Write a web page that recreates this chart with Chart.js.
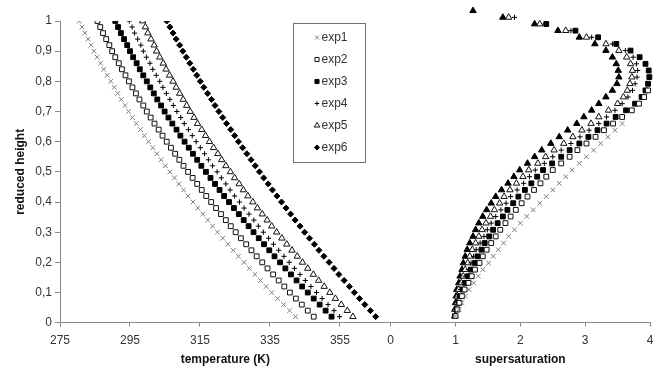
<!DOCTYPE html>
<html>
<head>
<meta charset="utf-8">
<script src="https://cdn.jsdelivr.net/npm/chart.js@4.4.1/dist/chart.umd.min.js"></script>
<style>
    html, body { margin: 0; padding: 0; background: #fff; }
</style>
</head>
<body>
<canvas id="grafik" width="661" height="374"></canvas>
<script>

// reduced height of the points (left panel / right panel)
const hLeft = [0.02,0.04,0.06,0.08,0.1,0.12,0.14,0.16,0.18,0.2,0.22,0.24,0.26,0.28,0.3,0.32,0.34,0.36,0.38,0.4,0.42,0.44,0.46,0.48,0.5,0.52,0.54,0.56,0.58,0.6,0.62,0.64,0.66,0.68,0.7,0.72,0.74,0.76,0.78,0.8,0.82,0.84,0.86,0.88,0.9,0.92,0.94,0.96,0.98,1];
const hRight = [0.022,0.044,0.066,0.088,0.11,0.132,0.154,0.176,0.198,0.22,0.242,0.264,0.286,0.308,0.33,0.352,0.374,0.396,0.418,0.44,0.462,0.484,0.506,0.528,0.55,0.572,0.594,0.616,0.638,0.66,0.682,0.704,0.726,0.748,0.77,0.792,0.814,0.836,0.858,0.88,0.902,0.924,0.946,0.968,0.99,1.012,1.034];

const labels = ["exp1", "exp2", "exp3", "exp4", "exp5", "exp6"];

// temperature (K)
const temp1 = [342.3,340.6,338.9,337.2,335.5,333.9,332.3,330.7,329.1,327.6,326.0,324.5,323.0,321.5,320.0,318.6,317.2,315.8,314.4,313.0,311.6,310.3,309.0,307.7,306.4,305.1,303.9,302.7,301.5,300.3,299.1,298.0,296.8,295.7,294.6,293.6,292.5,291.5,290.5,289.5,288.5,287.5,286.6,285.6,284.7,283.9,283.0,282.1,281.3,280.5];
const temp2 = [347.5,345.8,344.1,342.4,340.7,339.1,337.5,335.9,334.3,332.8,331.2,329.7,328.2,326.7,325.2,323.8,322.4,321.0,319.6,318.2,316.8,315.5,314.2,312.9,311.6,310.3,309.1,307.9,306.7,305.5,304.3,303.2,302.0,300.9,299.8,298.8,297.7,296.7,295.7,294.7,293.7,292.7,291.8,290.8,289.9,289.1,288.2,287.3,286.5,285.7];
const temp3 = [352.6,350.9,349.2,347.5,345.8,344.2,342.6,341.0,339.4,337.9,336.3,334.8,333.3,331.8,330.3,328.9,327.5,326.1,324.7,323.3,321.9,320.6,319.3,318.0,316.7,315.4,314.2,313.0,311.8,310.6,309.4,308.3,307.1,306.0,304.9,303.9,302.8,301.8,300.8,299.8,298.8,297.8,296.9,295.9,295.0,294.2,293.3,292.4,291.6,290.8];
const temp4 = [354.9,353.3,351.6,349.9,348.3,346.7,345.1,343.6,342.0,340.5,339.0,337.5,336.0,334.6,333.1,331.7,330.4,329.0,327.6,326.3,324.9,323.6,322.4,321.1,319.9,318.6,317.4,316.3,315.1,313.9,312.8,311.7,310.5,309.5,308.4,307.4,306.4,305.4,304.4,303.5,302.5,301.5,300.7,299.7,298.8,298.1,297.2,296.3,295.6,294.8];
const temp5 = [358.7,357.1,355.4,353.7,352.1,350.5,348.9,347.4,345.8,344.3,342.8,341.3,339.8,338.4,336.9,335.5,334.2,332.8,331.4,330.1,328.7,327.4,326.2,324.9,323.7,322.4,321.2,320.1,318.9,317.7,316.6,315.5,314.3,313.3,312.2,311.2,310.2,309.2,308.2,307.3,306.3,305.3,304.5,303.5,302.6,301.9,301.0,300.1,299.4,298.6];
const temp6 = [365.2,363.7,362.1,360.6,359.1,357.7,356.2,354.7,353.3,351.9,350.4,349.0,347.7,346.3,344.9,343.6,342.2,340.9,339.6,338.3,337.0,335.7,334.5,333.2,332.0,330.8,329.6,328.4,327.2,326.0,324.9,323.8,322.6,321.5,320.4,319.3,318.3,317.2,316.1,315.1,314.1,313.1,312.1,311.1,310.1,309.2,308.2,307.3,306.4,305.5];

// supersaturation (series stop where they leave the axis)
const sat1 = [1.00,1.05,1.10,1.15,1.21,1.28,1.35,1.42,1.51,1.58,1.66,1.74,1.82,1.91,2.00,2.10,2.20,2.30,2.40,2.50,2.60,2.70,2.80,2.91,3.02,3.13,3.24,3.35,3.46,3.57];
const sat2 = [1.00,1.03,1.06,1.10,1.14,1.20,1.25,1.30,1.37,1.42,1.48,1.55,1.62,1.69,1.77,1.85,1.93,2.02,2.11,2.21,2.31,2.40,2.50,2.63,2.76,2.88,3.02,3.16,3.29,3.43,3.57,3.72,3.83,3.91,3.97];
const sat3 = [0.99,1.02,1.05,1.07,1.11,1.15,1.20,1.24,1.30,1.34,1.40,1.45,1.52,1.58,1.65,1.73,1.80,1.89,1.97,2.07,2.17,2.26,2.35,2.49,2.63,2.76,2.91,3.05,3.19,3.33,3.47,3.63,3.77,3.87,3.93,3.97,3.99,3.98,3.93,3.84,3.70,3.48,3.20,2.85,2.40];
const sat4 = [0.99,1.01,1.03,1.05,1.08,1.12,1.15,1.20,1.24,1.28,1.32,1.38,1.44,1.49,1.55,1.62,1.70,1.78,1.85,1.95,2.05,2.14,2.23,2.37,2.50,2.63,2.78,2.92,3.06,3.21,3.33,3.46,3.57,3.66,3.73,3.77,3.80,3.81,3.79,3.74,3.62,3.42,3.10,2.78,2.38,1.91];
const sat5 = [0.99,1.00,1.02,1.03,1.05,1.09,1.12,1.15,1.19,1.22,1.26,1.31,1.36,1.41,1.47,1.54,1.60,1.68,1.75,1.84,1.94,2.04,2.13,2.27,2.39,2.52,2.67,2.81,2.95,3.09,3.21,3.36,3.50,3.59,3.65,3.69,3.72,3.73,3.70,3.64,3.52,3.32,3.02,2.70,2.30,1.82];
const sat6 = [0.99,0.99,1.00,1.01,1.02,1.05,1.07,1.10,1.12,1.15,1.18,1.22,1.27,1.31,1.36,1.42,1.48,1.55,1.62,1.71,1.81,1.90,1.99,2.11,2.22,2.33,2.47,2.60,2.73,2.87,2.98,3.10,3.21,3.32,3.42,3.49,3.52,3.51,3.48,3.42,3.32,3.15,2.91,2.58,2.22,1.73,1.27];

// tick labels
const yTicks = [0, 0.1, 0.2, 0.3, 0.4, 0.5, 0.6, 0.7, 0.8, 0.9, 1];
const tempTicks = [275, 295, 315, 335, 355];
const satTicks = [0, 1, 2, 3, 4];

const huruf = "Arial, 'Liberation Sans', sans-serif";
Chart.defaults.font.family = huruf;
Chart.defaults.font.size = 12;

// marker look per experiment: [pointStyle, radius, border, fill]
const gayaKiri = [
    ["crossRot", 3.3, "#7d7d7d", "#7d7d7d"],
    ["rect", 3.4, "#111", "#fff"],
    ["rect", 3.4, "#000", "#000"],
    ["cross", 2.6, "#000", "#000"],
    ["triangle", 3.7, "#111", "#fff"],
    ["rectRot", 3.0, "#000", "#000"]
];
const gayaKanan = gayaKiri.slice(0, 5).concat([["triangle", 3.7, "#000", "#000"]]);

function titik(tinggi, nilai) {
    return nilai.map((v, i) => ({ x: v, y: tinggi[i] }));
}

const temps = [temp1, temp2, temp3, temp4, temp5, temp6];
const sats = [sat1, sat2, sat3, sat4, sat5, sat6];

const datasets = [];

labels.forEach((nama, i) => {
    const g = gayaKiri[i];
    datasets.push({
        label: nama,
        xAxisID: "xT",
        data: titik(hLeft, temps[i]),
        pointStyle: g[0],
        pointRadius: g[1],
        borderColor: g[2],
        backgroundColor: g[3],
        pointBorderWidth: 1
    });
});

labels.forEach((nama, i) => {
    const g = gayaKanan[i];
    datasets.push({
        label: nama + " S",
        xAxisID: "xS",
        data: titik(hRight, sats[i]),
        pointStyle: g[0],
        pointRadius: g[1],
        borderColor: g[2],
        backgroundColor: g[3],
        pointBorderWidth: 1,
        clip: { left: 10, top: false, right: 10, bottom: 10 }
    });
});

// the two x axes sit side by side on one base line
const potongan = 0.5605;

const pisahPanel = {
    id: "pisahPanel",
    afterLayout(chart) {
        const area = chart.chartArea;
        const t = chart.scales.xT;
        const s = chart.scales.xS;
        const cut = area.left + (area.right - area.left) * potongan;

        t.left = area.left; t.right = cut; t.width = cut - area.left;
        s.left = cut; s.right = area.right; s.width = area.right - cut;
        s.top = t.top; s.bottom = t.bottom; s.height = t.height;

        t.configure();
        s.configure();
    }
};

// let the points a little above y = 1 be drawn too
let simpanTop = null;
const lewatAtas = {
    id: "lewatAtas",
    beforeDatasetsDraw(chart) {
        simpanTop = chart.chartArea.top;
        chart.chartArea.top = simpanTop - 16;
    },
    afterDatasetsDraw(chart) {
        if (simpanTop !== null) chart.chartArea.top = simpanTop;
    }
};

const kotakLegenda = { x: 293, y: 23, w: 72, h: 139, first: 14.5, step: 22, mark: 24, text: 28.5 };

const legenda = {
    id: "legenda",
    afterDatasetsDraw(chart) {
        const ctx = chart.ctx;
        const b = kotakLegenda;
        ctx.save();
        ctx.fillStyle = "#fff";
        ctx.fillRect(b.x, b.y, b.w, b.h);
        ctx.strokeStyle = "#707070";
        ctx.lineWidth = 1;
        ctx.strokeRect(b.x + 0.5, b.y + 0.5, b.w, b.h);
        ctx.font = "12px " + huruf;
        ctx.textBaseline = "middle";
        ctx.textAlign = "left";

        chart.data.datasets.forEach((ds, i) => {
            if (ds.xAxisID !== "xT") return;
            const cy = b.y + b.first + i * b.step;
            ctx.fillStyle = ds.backgroundColor;
            ctx.strokeStyle = ds.borderColor;
            ctx.lineWidth = 1;
            Chart.helpers.drawPoint(ctx, {
                pointStyle: ds.pointStyle,
                radius: ds.pointRadius * 0.85,
                borderWidth: 1,
                rotation: 0
            }, b.x + b.mark, cy);
            ctx.fillStyle = "#333";
            ctx.fillText(ds.label, b.x + b.text, cy);
        });
        ctx.restore();
    }
};

const warnaSumbu = "#8a8a8a";
const warnaTeks = "#333";

new Chart(document.getElementById("grafik"), {
    type: "scatter",
    data: { datasets: datasets },
    plugins: [pisahPanel, lewatAtas, legenda],
    options: {
        responsive: false,
        animation: false,
        events: [],
        layout: { padding: { left: 0, top: 21, right: 11, bottom: 0 } },
        plugins: {
            legend: { display: false },
            tooltip: { enabled: false }
        },
        scales: {
            y: {
                min: 0,
                max: 1,
                afterFit: (s) => { s.width = 60; },
                afterBuildTicks: (s) => { s.ticks = yTicks.map(v => ({ value: v })); },
                ticks: {
                    padding: 3,
                    color: warnaTeks,
                    callback: (v) => String(v).replace(".", ",")
                },
                grid: { drawOnChartArea: false, tickLength: 5, color: warnaSumbu },
                border: { color: warnaSumbu },
                title: {
                    display: true,
                    text: "reduced height",
                    color: "#111",
                    font: { size: 12, weight: "bold" },
                    padding: { top: 13.5, bottom: 0 }
                }
            },
            xT: {
                type: "linear",
                position: "bottom",
                min: 275,
                max: 369.5,
                afterFit: (s) => { s.height = 51.3; },
                afterBuildTicks: (s) => { s.ticks = tempTicks.map(v => ({ value: v })); },
                ticks: { padding: 7, color: warnaTeks },
                grid: { drawOnChartArea: false, tickLength: 4, color: warnaSumbu },
                border: { color: warnaSumbu },
                title: {
                    display: true,
                    text: "temperature (K)",
                    color: "#111",
                    font: { size: 12, weight: "bold" },
                    padding: { top: 4, bottom: 7 }
                }
            },
            xS: {
                type: "linear",
                position: "bottom",
                min: 0,
                max: 4,
                afterFit: (s) => { s.height = 0; },
                afterBuildTicks: (s) => { s.ticks = satTicks.map(v => ({ value: v })); },
                ticks: { padding: 7, color: warnaTeks },
                grid: { drawOnChartArea: false, tickLength: 4, color: warnaSumbu },
                border: { color: warnaSumbu },
                title: {
                    display: true,
                    text: "supersaturation",
                    color: "#111",
                    font: { size: 12, weight: "bold" },
                    padding: { top: 4, bottom: 7 }
                }
            }
        }
    }
});

</script>
</body>
</html>
